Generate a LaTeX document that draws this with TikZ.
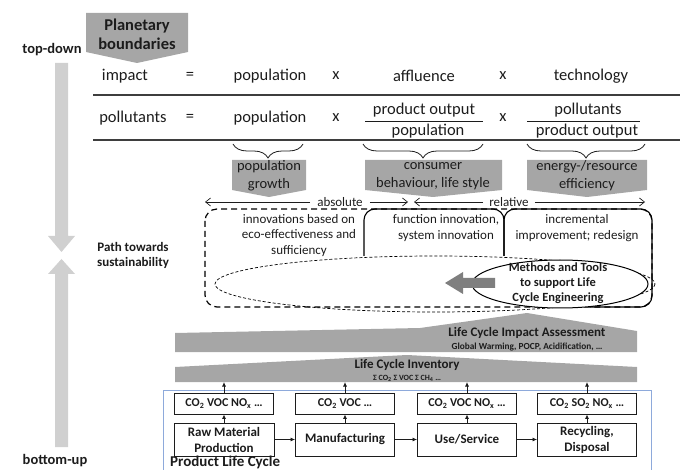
\documentclass[tikz,border=0pt]{standalone}
\usepackage{fontspec}
\setmainfont{Carlito}
\usetikzlibrary{arrows.meta,decorations.pathreplacing}
\definecolor{boxgray}{HTML}{A6A6A6}
\definecolor{palegray}{HTML}{D0D0D0}
\definecolor{arrowgray}{HTML}{7F7F7F}
\definecolor{frameblue}{HTML}{8EAADB}
\definecolor{ink}{HTML}{1C1C1C}
\tikzset{
 big/.style={font=\fontsize{16.5}{19}\selectfont, inner sep=0pt, text=ink},
 side/.style={font=\bfseries\fontsize{14.5}{16}\selectfont, inner sep=0pt, align=center, text=ink},
 graylbl/.style={font=\fontsize{14.5}{18}\selectfont, inner sep=0pt, align=center, text=ink},
 zonelbl/.style={font=\fontsize{13}{15.5}\selectfont, inner sep=0pt, align=center, text=ink},
 rulestyle/.style={draw=ink!85, line width=1.2pt},
 fracrule/.style={draw=ink, line width=0.9pt},
 bracestyle/.style={draw=ink, line width=0.8pt, decorate, decoration={brace, amplitude=14pt, mirror}},
 rangearrow/.style={draw=ink, line width=0.7pt, -{Straight Barb[length=5pt,width=8pt]}},
 solidbox/.style={draw=black, line width=1.1pt, rounded corners=11pt},
 bigdash/.style={draw=black, line width=1.2pt, dash pattern=on 6pt off 4pt, rounded corners=12pt},
 smalldash/.style={draw=black, line width=0.7pt, dash pattern=on 3pt off 2pt},
 emis/.style={draw=ink, line width=0.9pt, minimum width=99pt, minimum height=21pt, inner sep=0pt, font=\bfseries\fontsize{12}{14}\selectfont, text=ink},
 proc/.style={draw=ink, line width=0.9pt, minimum width=99pt, minimum height=33pt, inner sep=0pt, align=center, font=\bfseries\fontsize{13}{16}\selectfont, text=ink},
 smallarr/.style={draw=ink, line width=0.8pt, -{Latex[length=4.5pt,width=4pt]}},
}
\begin{document}
\begin{tikzpicture}[x=1pt,y=-1pt]
\useasboundingbox (0,0) rectangle (680,470);

% side arrows
\fill[palegray] (55,63) -- (68,63) -- (68,236) -- (75,236) -- (61.5,252) -- (48,236) -- (55,236) -- cycle;
\fill[palegray] (55,447) -- (68,447) -- (68,274) -- (75,274) -- (61.5,259) -- (48,274) -- (55,274) -- cycle;
\node[side] (td) at (52,50) {top-down};
\node[side, font=\bfseries\fontsize{13}{15}\selectfont] (path) at (133,255.5) {Path towards\\sustainability};
\node[side] (bu) at (55,461) {bottom-up};

% planetary boundaries
\fill[boxgray] (86,13) -- (188,13) -- (188,52) -- (137,63) -- (86,52) -- cycle;
\node[font=\bfseries\fontsize{16.5}{19}\selectfont, align=center, inner sep=0pt, text=ink] (pb) at (137,34.5) {Planetary\\boundaries};

% row 1
\node[big] (imp) at (125,76) {impact};
\node[big] (eqa) at (190,76) {=};
\node[big] (popa) at (270,76) {population};
\node[big] (xa) at (336,76) {x};
\node[big] (aff) at (424,76) {affluence};
\node[big] (xb) at (503,76) {x};
\node[big] (tech) at (591,76) {technology};
\draw[rulestyle] (93,95) -- (680,95);

% row 2
\node[big] (pol) at (133,118) {pollutants};
\node[big] (eqb) at (190,118) {=};
\node[big] (popb) at (270,118) {population};
\node[big] (xc) at (336,118) {x};
\node[big] (num1) at (424,110) {product output};
\node[big] (den1) at (428,131) {population};
\draw[fracrule] (365,121) -- (483,121);
\node[big] (xd) at (503,118) {x};
\node[big] (num2) at (588,110) {pollutants};
\node[big] (den2) at (587,131) {product output};
\draw[fracrule] (527,121) -- (640,121);
\draw[rulestyle] (93,140) -- (680,140);

% braces
\draw[bracestyle] (233,144) -- (303,144);
\draw[bracestyle] (363,144) -- (483,144);
\draw[bracestyle] (527,144) -- (645,144);

% gray factor boxes
\fill[boxgray] (232,160) -- (306,160) -- (306,190) -- (269,197) -- (232,190) -- cycle;
\node[graylbl] (g1) at (269,176) {population\\growth};
\fill[boxgray] (365,160) -- (502,160) -- (502,190) -- (433,197) -- (365,190) -- cycle;
\node[graylbl] (g2) at (433,176) {consumer\\behaviour, life style};
\fill[boxgray] (527,160) -- (647,160) -- (647,190) -- (587,197) -- (527,190) -- cycle;
\node[graylbl] (g3) at (587,176) {energy-/resource\\efficiency};

% absolute / relative
\node[zonelbl, inner xsep=7pt] (abs) at (340,202) {absolute};
\coordinate (absL) at (205,202);
\coordinate (absR) at (408,202);
\draw[rangearrow] (abs.west) -- (absL);
\draw[rangearrow] (abs.east) -- (absR);
\node[zonelbl, inner xsep=6pt] (rel) at (509,202) {relative};
\coordinate (relL) at (414,202);
\coordinate (relR) at (645,202);
\draw[rangearrow] (rel.west) -- (relL);
\draw[rangearrow] (rel.east) -- (relR);

% innovation zones
\draw[bigdash] (205,209) rectangle (652,307);
\draw[smalldash] (435,284) ellipse [x radius=220, y radius=28];
\draw[solidbox] (364,256) -- (364,209) -- (504,209) -- (504,256);
\draw[solidbox] (504,256) -- (504,209) -- (652,209) -- (652,307) -- (590,307);
\node[zonelbl] (z1) at (299,235.5) {innovations based on\\eco-effectiveness and\\sufficiency};
\node[zonelbl] (z2) at (446,228) {function innovation,\\system innovation};
\node[zonelbl] (z3) at (577,228) {incremental\\improvement; redesign};

% methods and tools
\filldraw[fill=white, draw=black, line width=1pt] (560,284) ellipse [x radius=88, y radius=24];
\node[font=\bfseries\fontsize{12.5}{15}\selectfont, align=center, inner sep=0pt, text=ink] (mt) at (558,283) {Methods and Tools\\to support Life\\Cycle Engineering};
\fill[arrowgray] (445,283) -- (463,272) -- (463,278) -- (495,278) -- (495,288) -- (463,288) -- (463,294) -- cycle;

% LCIA and LCI
\fill[boxgray] (175,352) -- (175,333) -- (420,328) -- (527,313) -- (637,331) -- (637,352) -- cycle;
\node[font=\bfseries\fontsize{13}{15}\selectfont, inner sep=0pt, text=ink] (lcia) at (527,333) {Life Cycle Impact Assessment};
\node[font=\bfseries\fontsize{9.3}{11}\selectfont, inner sep=0pt, text=ink] (lciasub) at (527,347) {Global Warming, POCP, Acidification, \ldots};
\fill[boxgray] (175,382) -- (175,367) -- (407,355) -- (637,367) -- (637,382) -- cycle;
\node[font=\bfseries\fontsize{13}{15}\selectfont, inner sep=0pt, text=ink] (lci) at (407,365) {Life Cycle Inventory};
\node[font=\bfseries\fontsize{8}{9}\selectfont, inner sep=0pt, text=ink] (lcisub) at (407,378) {Σ CO\textsubscript{2} Σ VOC Σ CH\textsubscript{4} \ldots};

% product life cycle
\draw[frameblue, line width=1pt] (163,471) -- (163,390) -- (651,390) -- (651,471);
\node[emis] (e1) at (224,403.5) {CO\textsubscript{2} VOC NO\textsubscript{x} \ldots};
\node[emis] (e2) at (345,403.5) {CO\textsubscript{2} VOC \ldots};
\node[emis] (e3) at (467,403.5) {CO\textsubscript{2} VOC NO\textsubscript{x} \ldots};
\node[emis] (e4) at (587,403.5) {CO\textsubscript{2} SO\textsubscript{2} NO\textsubscript{x} \ldots};
\node[proc, minimum width=100pt] (p1) at (224,439.5) {Raw Material\\Production};
\node[proc] (p2) at (345,439.5) {Manufacturing};
\node[proc] (p3) at (467,439.5) {Use/Service};
\node[proc] (p4) at (587,439.5) {Recycling,\\Disposal};
\coordinate (c1) at (224,382);
\coordinate (c2) at (345,382);
\coordinate (c3) at (467,382);
\coordinate (c4) at (587,382);
\draw[smallarr] (p1) -- (p2);
\draw[smallarr] (p2) -- (p3);
\draw[smallarr] (p3) -- (p4);
\draw[smallarr] (p1) -- (e1);
\draw[smallarr] (p2) -- (e2);
\draw[smallarr] (p3) -- (e3);
\draw[smallarr] (p4) -- (e4);
\draw[smallarr] (e1) -- (c1);
\draw[smallarr] (e2) -- (c2);
\draw[smallarr] (e3) -- (c3);
\draw[smallarr] (e4) -- (c4);
\node[font=\bfseries\fontsize{15}{18}\selectfont, anchor=west, inner sep=0pt, text=ink] (plc) at (170,462) {Product Life Cycle};
\end{tikzpicture}
\end{document}
